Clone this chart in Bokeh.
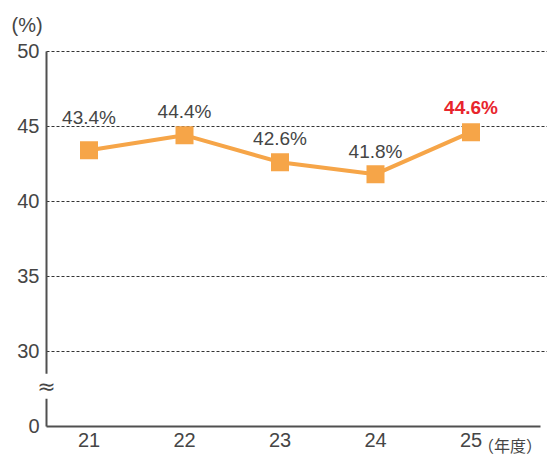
from bokeh.plotting import figure
from bokeh.models import Range1d, FixedTicker, Label, ColumnDataSource
from bokeh.core.properties import value
from bokeh.embed import file_html
from bokeh.resources import INLINE

# ---- data ----
years = [21, 22, 23, 24, 25]
rates = [43.4, 44.4, 42.6, 41.8, 44.6]
rate_labels = ["43.4%", "44.4%", "42.6%", "41.8%", "44.6%"]
y_ticks = [25, 30, 35, 40, 45, 50]
y_tick_labels = ["0", "30", "35", "40", "45", "50"]
grid_ticks = [30, 35, 40, 45, 50]
y_floor = 25          # displayed as "0" (axis break)
y_top = 50
break_level = 27.67

# ---- layout / styling ----
X_START, X_END = 20.0733, 25.801
Y_START, Y_END = 23.0, 53.367
Y_AXIS_AT = 20.555
X_AXIS_END = 25.728
ORANGE = "#F6A548"
TEXT = "#454545"
RED = "#E8252C"
FONT = "Liberation Sans"
label_lift = [33, 24, 24, 23, 25]
label_colors = [TEXT, TEXT, TEXT, TEXT, RED]
label_styles = ["normal", "normal", "normal", "normal", "bold"]

p = figure(width=547, height=456,
           x_range=Range1d(X_START, X_END), y_range=Range1d(Y_START, Y_END),
           output_backend="svg", toolbar_location=None,
           min_border_left=0, min_border_right=0,
           min_border_top=0, min_border_bottom=0)
p.outline_line_color = None
p.background_fill_color = "white"
p.border_fill_color = "white"

# axes (drawn inside the frame at fixed positions)
for ax in (p.xaxis[0], p.yaxis[0]):
    ax.axis_line_color = "#505050"
    ax.axis_line_width = 2
    ax.major_tick_line_color = None
    ax.minor_tick_line_color = None
    ax.major_tick_out = 0
    ax.major_tick_in = 0
    ax.major_label_text_font = FONT
    ax.major_label_text_font_size = "20px"
    ax.major_label_text_color = TEXT

p.yaxis.fixed_location = Y_AXIS_AT
p.yaxis.bounds = (y_floor, y_top)
p.yaxis.ticker = FixedTicker(ticks=y_ticks)
p.yaxis.major_label_overrides = {t: s for t, s in zip(y_ticks, y_tick_labels)}
p.yaxis.major_label_standoff = 7

p.xaxis.fixed_location = y_floor
p.xaxis.bounds = (Y_AXIS_AT, X_AXIS_END)
p.xaxis.ticker = FixedTicker(ticks=years)
p.xaxis.major_label_standoff = 7

# grid
p.xgrid.visible = False
p.ygrid.ticker = FixedTicker(ticks=grid_ticks)
p.ygrid.cross_bounds = (Y_AXIS_AT, X_END)
p.ygrid.grid_line_color = "#333333"
p.ygrid.grid_line_width = 1
p.ygrid.grid_line_dash = "3 2"

# series
p.line(years, rates, line_color=ORANGE, line_width=4)
p.scatter(years, rates, marker="square", size=18, fill_color=ORANGE, line_color=None)

src = ColumnDataSource(dict(x=years, y=rates, t=rate_labels,
                            dy=[-v for v in label_lift],
                            c=label_colors, s=label_styles))
p.text(x="x", y="y", text="t", source=src, y_offset="dy",
       text_align="center", text_baseline="alphabetic",
       text_font=value(FONT), text_font_size="19px",
       text_color="c", text_font_style="s")

# unit label
p.add_layout(Label(x=Y_AXIS_AT, y=y_top, x_offset=-35, y_offset=26,
                   text="(%)", text_align="left", text_baseline="middle",
                   text_font=FONT, text_font_size="20px", text_color=TEXT))
# axis break mark
p.add_layout(Label(x=Y_AXIS_AT, y=break_level, text="\u2248",
                   text_align="center", text_baseline="middle",
                   text_font="DejaVu Sans", text_font_size="22px", text_color=TEXT,
                   background_fill_color="white"))
# year unit
p.add_layout(Label(x=years[-1], y=y_floor, x_offset=7, y_offset=-19, text="（年度）",
                   text_align="left", text_baseline="middle",
                   text_font="Noto Sans CJK JP", text_font_size="16px", text_color=TEXT))

open("out.html", "w").write(file_html(p, INLINE))
